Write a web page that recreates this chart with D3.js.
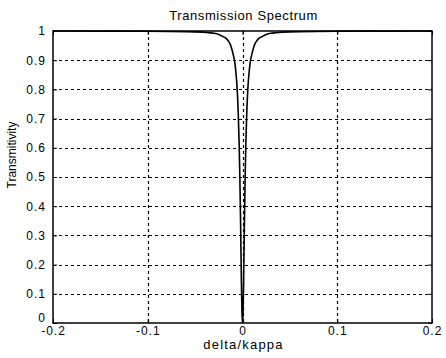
<!DOCTYPE html>
<html>
<head>
<meta charset="utf-8">
<script src="https://cdn.jsdelivr.net/npm/d3@7"></script>
<style>
html,body{margin:0;padding:0;background:#fff;}
svg{display:block;}
text{font-family:"Liberation Sans",Arial,sans-serif;fill:#000;}
</style>
</head>
<body>
<svg id="chart" width="446" height="358"></svg>
<script>
// ---- data ----
const chartTitle = "Transmission Spectrum";
const xLabel = "delta/kappa";
const yLabel = "Transmitivity";
const xTicks = [-0.2, -0.1, 0, 0.1, 0.2];
const xTickLabels = ["-0.2", "-0.1", "0", "0.1", "0.2"];
const yTicks = [0, 0.1, 0.2, 0.3, 0.4, 0.5, 0.6, 0.7, 0.8, 0.9, 1];
const yTickLabels = ["0", "0.1", "0.2", "0.3", "0.4", "0.5", "0.6", "0.7", "0.8", "0.9", "1"];
const deltaValues = [
  -0.2, -0.1, -0.05, -0.035, -0.03, -0.025, -0.02, -0.017, -0.015, -0.013, -0.011,
  -0.0095, -0.0085, -0.007, -0.0056, -0.0045, -0.0035, -0.0028, -0.002, -0.0012, -0.0006,
  0,
  0.0006, 0.0012, 0.002, 0.0028, 0.0035, 0.0045, 0.0056, 0.007, 0.0085, 0.0095,
  0.011, 0.013, 0.015, 0.017, 0.02, 0.025, 0.03, 0.035, 0.05, 0.1, 0.2
];
const transmitivity = [
  1, 0.999, 0.997, 0.994, 0.992, 0.988, 0.98, 0.974, 0.966, 0.955, 0.935,
  0.915, 0.9, 0.86, 0.8, 0.72, 0.61, 0.5, 0.34, 0.15, 0.04,
  0,
  0.04, 0.15, 0.34, 0.5, 0.61, 0.72, 0.8, 0.86, 0.9, 0.915,
  0.935, 0.955, 0.966, 0.974, 0.98, 0.988, 0.992, 0.994, 0.997, 0.999, 1
];

// ---- layout ----
const mLeft = 53, mRight = 432, mTop = 31, mBottom = 323;
const svg = d3.select("#chart");
const x = d3.scaleLinear().domain([-0.2, 0.2]).range([mLeft, mRight]);
const y = d3.scaleLinear().domain([0, 1]).range([mBottom, mTop]);

// grid
const grid = svg.append("g").attr("stroke", "#000").attr("stroke-width", 1.2)
  .attr("stroke-dasharray", "3,3");
grid.selectAll("line.gx").data(xTicks.slice(1, -1)).enter().append("line")
  .attr("x1", d => Math.round(x(d)) + 0.5).attr("x2", d => Math.round(x(d)) + 0.5)
  .attr("y1", mTop).attr("y2", mBottom);
grid.selectAll("line.gy").data(yTicks.slice(1, -1)).enter().append("line")
  .attr("x1", mLeft).attr("x2", mRight)
  .attr("y1", d => Math.round(y(d)) + 0.5).attr("y2", d => Math.round(y(d)) + 0.5);

// axes (ticks inward, labels custom)
const axB = d3.axisBottom(x).tickValues(xTicks).tickSize(-4).tickFormat((d, i) => xTickLabels[i]).tickPadding(3);
const axL = d3.axisLeft(y).tickValues(yTicks).tickSize(-4).tickFormat((d, i) => yTickLabels[i]).tickPadding(7);
const axT = d3.axisTop(x).tickValues(xTicks).tickSize(-4).tickFormat("");
const axR = d3.axisRight(y).tickValues(yTicks).tickSize(-4).tickFormat("");

function style(g) {
  g.select(".domain").remove();
  g.selectAll(".tick line").attr("stroke", "#000").attr("stroke-width", 1);
  g.selectAll(".tick text").style("font-family", "'Liberation Sans',Arial,sans-serif")
    .style("font-size", "12px").style("letter-spacing", "1px").attr("fill", "#000");
}
svg.append("g").attr("transform", `translate(0,${mBottom})`).call(axB).call(style);
const gL = svg.append("g").attr("transform", `translate(${mLeft},0)`).call(axL).call(style);
// lift the "0" label above the x-axis labels, as in the reference
gL.selectAll(".tick text").filter(d => d === 0).attr("y", -5);
svg.append("g").attr("transform", `translate(0,${mTop})`).call(axT).call(style);
svg.append("g").attr("transform", `translate(${mRight},0)`).call(axR).call(style);

// frame
svg.append("rect").attr("x", mLeft).attr("y", mTop).attr("width", mRight - mLeft).attr("height", mBottom - mTop)
  .attr("fill", "none").attr("stroke", "#000").attr("stroke-width", 1.5);

// curve
const pts = deltaValues.map((d, i) => [d, transmitivity[i]]);
const line = d3.line().x(d => x(d[0])).y(d => y(d[1])).curve(d3.curveMonotoneX);
svg.append("path").datum(pts).attr("d", line).attr("fill", "none")
  .attr("stroke", "#000").attr("stroke-width", 1.6);

// titles
svg.append("text").attr("x", (mLeft + mRight) / 2 + 1).attr("y", 20).attr("text-anchor", "middle")
  .style("font-size", "13px").style("letter-spacing", "0.6px").text(chartTitle);
svg.append("text").attr("x", (mLeft + mRight) / 2 + 1).attr("y", 349).attr("text-anchor", "middle")
  .style("font-size", "13px").style("letter-spacing", "1.2px").text(xLabel);
svg.append("text").attr("transform", "translate(16,155) rotate(-90)").attr("text-anchor", "middle")
  .style("font-size", "12px").text(yLabel);
</script>
</body>
</html>
